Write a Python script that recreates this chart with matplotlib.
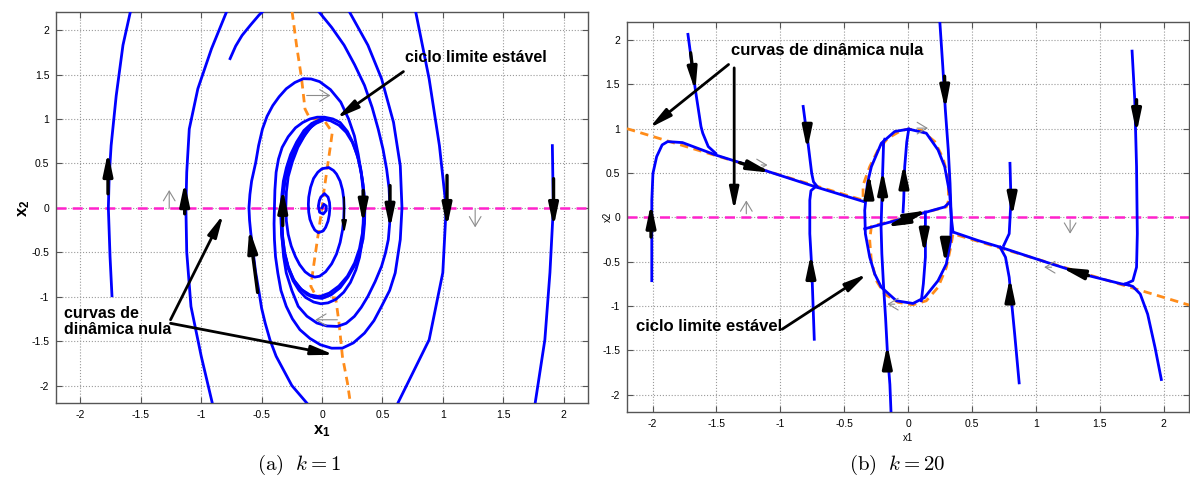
import matplotlib
matplotlib.use('Agg')
import matplotlib.pyplot as plt

plt.rcParams['font.family'] = ['Liberation Sans', 'DejaVu Sans']
plt.rcParams['mathtext.fontset'] = 'custom'
plt.rcParams['mathtext.rm'] = 'Liberation Sans'
plt.rcParams['mathtext.bf'] = 'Liberation Sans:bold'

# ---------------- data ----------------
ticks = [-2, -1.5, -1, -0.5, 0, 0.5, 1, 1.5, 2]
tick_labels = ['-2', '-1.5', '-1', '-0.5', '0', '0.5', '1', '1.5', '2']

# (a) k = 1 : trajectories
a_far_left = [(-1.739, -0.99), (-1.755, -0.55), (-1.769, 0.0), (-1.762, 0.35), (-1.746, 0.70),
              (-1.704, 1.26), (-1.648, 1.83), (-1.586, 2.21)]
a_outer_left = [(-0.901, -2.24), (-1.0, -1.67), (-1.085, -1.11), (-1.12, -0.5),
                (-1.127, 0.0), (-1.12, 0.4), (-1.099, 0.887), (-1.028, 1.34),
                (-0.915, 1.79), (-0.789, 2.21)]
a_start_top = [(-0.761, 1.679), (-0.715, 1.82), (-0.662, 1.94), (-0.59, 2.06), (-0.521, 2.17),
               (-0.49, 2.21)]
a_outer_right = [(0.775, 2.21), (0.887, 1.45), (0.972, 0.70), (1.028, 0.0),
                 (1.0, -0.73), (0.887, -1.485), (0.62, -2.22)]
a_far_right = [(1.907, 0.70), (1.915, 0.0), (1.887, -0.73), (1.845, -1.485), (1.76, -2.24)]
a_spiral_1 = [(0.225, 2.21), (0.38, 1.83), (0.493, 1.453), (0.592, 0.962), (0.648, 0.472),
              (0.662, 0.0), (0.648, -0.357), (0.606, -0.733), (0.56, -0.93), (0.493, -1.109),
              (0.43, -1.27), (0.352, -1.41), (0.26, -1.52), (0.169, -1.579), (0.08, -1.58),
              (-0.014, -1.541), (-0.1, -1.47), (-0.183, -1.372), (-0.245, -1.25),
              (-0.296, -1.109), (-0.34, -0.93), (-0.366, -0.733), (-0.385, -0.55),
              (-0.394, -0.357), (-0.397, -0.18), (-0.394, 0.0), (-0.39, 0.2),
              (-0.38, 0.4), (-0.36, 0.55), (-0.33, 0.68), (-0.28, 0.8), (-0.22, 0.9),
              (-0.16, 0.96), (-0.1, 1.0), (-0.04, 1.02), (0.02, 1.02), (0.09, 1.0),
              (0.15, 0.96), (0.21, 0.86), (0.26, 0.72), (0.3, 0.55), (0.33, 0.35),
              (0.348, 0.17), (0.355, 0.0), (0.352, -0.18), (0.34, -0.35), (0.31, -0.51),
              (0.27, -0.65), (0.215, -0.78), (0.15, -0.9), (0.075, -0.98), (0.0, -1.02),
              (-0.065, -1.01), (-0.12, -0.98), (-0.185, -0.9), (-0.24, -0.8), (-0.28, -0.66),
              (-0.31, -0.5), (-0.328, -0.3), (-0.335, -0.1), (-0.328, 0.1), (-0.31, 0.3),
              (-0.275, 0.47), (-0.23, 0.62), (-0.18, 0.76), (-0.12, 0.88), (-0.06, 0.95),
              (0.0, 0.99)]
a_spiral_2 = [(-0.028, 2.21), (0.08, 2.03), (0.183, 1.83), (0.27, 1.61), (0.352, 1.377),
              (0.415, 1.13), (0.465, 0.887), (0.505, 0.66), (0.535, 0.434), (0.555, 0.22),
              (0.563, 0.0), (0.56, -0.18), (0.549, -0.357), (0.525, -0.51), (0.493, -0.658),
              (0.44, -0.83), (0.38, -0.996), (0.325, -1.12), (0.268, -1.222), (0.2, -1.3),
              (0.127, -1.335), (0.04, -1.33), (-0.042, -1.297), (-0.125, -1.22),
              (-0.197, -1.109), (-0.25, -0.93), (-0.296, -0.733), (-0.318, -0.55),
              (-0.33, -0.357), (-0.337, -0.18), (-0.338, 0.0), (-0.332, 0.15), (-0.32, 0.3),
              (-0.295, 0.45), (-0.26, 0.6), (-0.21, 0.74), (-0.15, 0.87), (-0.085, 0.95),
              (-0.02, 0.99)]
a_spiral_3 = [(-0.099, -2.24), (-0.25, -2.0), (-0.38, -1.67), (-0.43, -1.49), (-0.47, -1.3),
              (-0.5, -1.13), (-0.52, -0.96), (-0.55, -0.72), (-0.57, -0.5), (-0.59, -0.28),
              (-0.6, -0.14), (-0.605, 0.0), (-0.597, 0.15), (-0.583, 0.3), (-0.549, 0.509),
              (-0.525, 0.7), (-0.493, 0.887), (-0.455, 1.03), (-0.408, 1.15), (-0.355, 1.25),
              (-0.296, 1.34), (-0.225, 1.41), (-0.155, 1.453), (-0.09, 1.45), (-0.02, 1.42),
              (0.07, 1.33), (0.155, 1.19), (0.22, 1.0), (0.268, 0.81), (0.3, 0.6),
              (0.324, 0.40), (0.34, 0.2), (0.345, 0.0), (0.34, -0.2), (0.33, -0.4),
              (0.31, -0.56), (0.28, -0.7), (0.235, -0.84), (0.18, -0.95), (0.115, -1.03),
              (0.05, -1.07), (-0.01, -1.08), (-0.07, -1.06), (-0.135, -1.01), (-0.19, -0.93),
              (-0.24, -0.82), (-0.28, -0.68), (-0.308, -0.52), (-0.325, -0.35),
              (-0.332, -0.17), (-0.33, 0.0), (-0.32, 0.18), (-0.3, 0.35), (-0.265, 0.51),
              (-0.22, 0.66), (-0.17, 0.79), (-0.11, 0.9), (-0.055, 0.96), (0.0, 0.995)]
a_inner = [(0.0, 0.0), (0.015, 0.04), (0.035, 0.02), (0.035, -0.03), (0.01, -0.07),
           (-0.02, -0.05), (-0.03, 0.02), (-0.022, 0.08), (-0.01, 0.12), (0.02, 0.16),
           (0.05, 0.12), (0.062, 0.06), (0.065, 0.0), (0.06, -0.08), (0.05, -0.15),
           (0.03, -0.22), (0.01, -0.26), (-0.03, -0.28), (-0.06, -0.25), (-0.08, -0.2),
           (-0.1, -0.13), (-0.11, -0.05), (-0.113, 0.04), (-0.11, 0.12), (-0.095, 0.23),
           (-0.07, 0.33), (-0.035, 0.4), (0.0, 0.44), (0.056, 0.453), (0.095, 0.42),
           (0.12, 0.38), (0.15, 0.3), (0.17, 0.2), (0.18, 0.1), (0.183, 0.0),
           (0.18, -0.12), (0.17, -0.25), (0.15, -0.39), (0.12, -0.52), (0.08, -0.63),
           (0.03, -0.72), (-0.02, -0.77), (-0.06, -0.78), (-0.1, -0.76), (-0.14, -0.72),
           (-0.185, -0.64), (-0.22, -0.55), (-0.255, -0.43), (-0.28, -0.3), (-0.295, -0.15),
           (-0.3, 0.0), (-0.295, 0.18), (-0.28, 0.35), (-0.245, 0.52), (-0.2, 0.68),
           (-0.15, 0.8), (-0.1, 0.9), (-0.05, 0.95), (0.0, 0.98)]
a_cycle = [(0.0, 1.0), (0.07, 0.98), (0.14, 0.93), (0.2, 0.85), (0.25, 0.74), (0.29, 0.6),
           (0.32, 0.44), (0.34, 0.26), (0.35, 0.08), (0.348, -0.1), (0.335, -0.28),
           (0.31, -0.46), (0.27, -0.62), (0.21, -0.77), (0.14, -0.88), (0.06, -0.96),
           (-0.02, -1.0), (-0.1, -0.98), (-0.17, -0.92), (-0.23, -0.82), (-0.28, -0.67),
           (-0.315, -0.5), (-0.335, -0.3), (-0.34, -0.1), (-0.33, 0.1), (-0.31, 0.3),
           (-0.27, 0.5), (-0.21, 0.68), (-0.14, 0.83), (-0.07, 0.94), (0.0, 1.0)]
a_curves = [a_far_left, a_outer_left, a_start_top, a_outer_right, a_far_right,
            a_spiral_1, a_spiral_2, a_spiral_3, a_inner, a_cycle]

# (a) nullcline (orange)
a_null = [(-0.248, 2.21), (-0.211, 1.83), (-0.169, 1.453), (-0.141, 1.113), (-0.113, 1.038),
          (-0.07, 1.0), (0.014, 0.992), (0.085, 0.849), (0.07, 0.698), (0.042, 0.434),
          (0.014, 0.17), (0.0, 0.0), (-0.014, -0.13), (-0.042, -0.395), (-0.07, -0.658),
          (-0.093, -0.883), (-0.056, -0.977), (0.014, -1.004), (0.113, -1.015),
          (0.141, -1.297), (0.169, -1.673), (0.211, -1.974), (0.239, -2.237)]

# (a) direction arrows (start, end)
a_arrows = [((-1.772, 0.158), (-1.772, 0.629)), ((-1.137, -0.068), (-1.137, 0.29)),
            ((-0.325, -0.2), (-0.325, 0.215)), ((-0.533, -0.953), (-0.602, -0.237)),
            ((0.341, 0.196), (0.341, -0.18)), ((0.563, 0.25), (0.563, -0.237)),
            ((1.035, 0.365), (1.035, -0.218)), ((1.917, 0.328), (1.917, -0.218))]
a_small_arrows = [((0.183, 0.12), (0.183, -0.29))]
a_field = [((-1.265, 0.0), (-1.265, 0.2)), ((1.268, -0.02), (1.268, -0.22)),
           ((-0.127, 1.264), (0.07, 1.264)), ((0.127, -1.26), (-0.056, -1.26))]

# (b) k = 20 : trajectories
b_left = [(-2.006, -0.715), (-2.006, -0.3), (-2.006, 0.19), (-1.997, 0.495), (-1.968, 0.684),
          (-1.925, 0.817), (-1.882, 0.854), (-1.766, 0.843), (-1.506, 0.703), (-1.13, 0.533),
          (-0.725, 0.344), (-0.339, 0.174)]
b_top_left = [(-1.723, 2.064), (-1.665, 1.44), (-1.621, 1.025), (-1.607, 0.949),
              (-1.564, 0.798), (-1.506, 0.722)]
b_mid_upper = [(-0.821, 1.251), (-0.783, 0.836), (-0.754, 0.495), (-0.74, 0.40), (-0.71, 0.345)]
b_mid_lower = [(-0.734, -1.376), (-0.754, -0.563), (-0.769, -0.185), (-0.769, 0.193),
               (-0.76, 0.30), (-0.725, 0.344)]
b_top_right = [(0.249, 2.204), (0.272, 1.705), (0.292, 1.214), (0.315, 0.76), (0.329, 0.382),
               (0.338, 0.004), (0.352, -0.166)]
b_right_line = [(0.352, -0.166), (0.546, -0.261), (0.72, -0.336), (1.124, -0.526),
                (1.413, -0.658), (1.673, -0.752), (1.72, -0.762)]
b_far_right = [(1.754, 1.875), (1.775, 1.327), (1.789, 0.571), (1.795, -0.185),
               (1.789, -0.563), (1.76, -0.715), (1.702, -0.752)]
b_bottom_right = [(1.983, -1.83), (1.934, -1.471), (1.876, -1.093), (1.818, -0.866),
                  (1.76, -0.78), (1.702, -0.752)]
b_right_upper = [(0.798, 0.609), (0.806, 0.193), (0.792, -0.185), (0.749, -0.318)]
b_right_lower = [(0.87, -1.868), (0.835, -1.319), (0.792, -0.677), (0.763, -0.45), (0.72, -0.336)]
b_long = [(-0.133, -2.208), (-0.142, -1.887), (-0.162, -1.508), (-0.176, -1.13),
          (-0.191, -0.79), (-0.205, -0.412), (-0.211, -0.11), (-0.205, 0.193),
          (-0.199, 0.495), (-0.191, 0.854), (-0.183, 0.88)]
b_center_up = [(-0.039, 0.06), (-0.034, 0.193), (-0.026, 0.571), (-0.01, 0.85), (0.005, 0.99)]
b_center_down = [(0.136, 0.06), (0.136, -0.45), (0.12, -0.75), (0.104, -0.942)]
b_diag = [(-0.339, -0.13), (-0.287, -0.11), (0.0, 0.0), (0.287, 0.117), (0.318, 0.16)]
b_cycle = [(0.005, 0.995), (0.143, 0.949), (0.235, 0.760), (0.287, 0.571), (0.326, 0.269),
           (0.339, 0.004), (0.334, -0.261), (0.300, -0.526), (0.235, -0.715), (0.130, -0.904),
           (0.039, -0.972), (-0.091, -0.942), (-0.209, -0.790), (-0.261, -0.639),
           (-0.300, -0.450), (-0.334, -0.185), (-0.339, 0.079), (-0.318, 0.382),
           (-0.287, 0.571), (-0.209, 0.836), (-0.104, 0.968), (0.005, 0.995)]
b_curves = [b_left, b_top_left, b_mid_upper, b_mid_lower, b_top_right, b_right_line,
            b_far_right, b_bottom_right, b_right_upper, b_right_lower, b_long,
            b_center_up, b_center_down, b_diag, b_cycle]

b_null = [(-2.2, 1.0), (-0.352, 0.193), (-0.352, 0.363), (-0.3, 0.571), (-0.235, 0.76),
          (-0.157, 0.893), (-0.052, 0.98), (0.005, 0.995), (0.104, 0.98), (0.209, 0.855),
          (0.274, 0.666), (0.313, 0.458), (0.318, 0.193), (0.300, 0.117), (-0.287, -0.102),
          (-0.3, -0.26), (-0.287, -0.488), (-0.248, -0.715), (-0.183, -0.866),
          (-0.078, -0.96), (0.039, -0.987), (0.143, -0.942), (0.235, -0.79), (0.3, -0.564),
          (0.334, -0.337), (0.352, -0.186), (2.2, -0.99)]

b_arrows = [((-2.012, -0.223), (-2.012, 0.155)), ((-1.702, 1.856), (-1.665, 1.422)),
            ((-1.318, 0.616), (-1.072, 0.503)), ((-0.789, 0.949), (-0.789, 0.76)),
            ((-0.76, -0.715), (-0.76, -0.412)), ((-0.306, 0.344), (-0.306, 0.495)),
            ((-0.199, 0.193), (-0.199, 0.533)), ((-0.032, 0.42), (-0.032, 0.609)),
            ((0.012, 0.004), (0.156, 0.079)), ((-0.061, -0.053), (-0.176, -0.11)),
            ((0.127, -0.11), (0.127, -0.412)), ((0.286, 1.592), (0.292, 1.214)),
            ((0.292, -0.336), (0.292, -0.526)), ((-0.162, -1.698), (-0.162, -1.433)),
            ((0.815, 0.268), (0.815, 0.004)), ((0.798, -0.941), (0.798, -0.677)),
            ((1.413, -0.658), (1.197, -0.563)), ((1.789, 1.327), (1.789, 0.949))]
b_field = [((-1.266, 0.04), (-1.266, 0.19)), ((1.269, -0.03), (1.269, -0.185)),
           ((0.07, 1.006), (0.156, 1.006)), ((-0.104, -0.98), (-0.162, -0.98)),
           ((1.124, -0.563), (1.066, -0.563)), ((-1.15, 0.59), (-1.1, 0.59))]


def setup(ax):
    ax.set_xlim(-2.2, 2.2)
    ax.set_ylim(-2.2, 2.2)
    ax.set_xticks(ticks)
    ax.set_yticks(ticks)
    ax.set_xticklabels(tick_labels)
    ax.set_yticklabels(tick_labels)
    ax.grid(True, linestyle=':', color='#9a9a9a', lw=0.8)
    ax.tick_params(direction='in', length=4, width=0.8, labelsize=7.5, color='#555555',
                   top=True, right=True, pad=5)
    for s in ax.spines.values():
        s.set_color('#555555')
        s.set_linewidth(1.0)


def draw(ax, curves, null, arrows, field, small=()):
    ax.axhline(0, color='#ff22cc', ls='--', lw=1.8, dashes=(4, 2.5), zorder=2)
    ax.plot([p[0] for p in null], [p[1] for p in null], color='#ff8c1a', ls='--',
            lw=2.0, dashes=(3, 2), zorder=3)
    for c in curves:
        ax.plot([p[0] for p in c], [p[1] for p in c], color='#0000ff', lw=2.0, zorder=4,
                solid_joinstyle='round')
    for s, e in arrows:
        ax.annotate('', xy=e, xytext=s, zorder=6,
                    arrowprops=dict(arrowstyle='-|>,head_length=0.95,head_width=0.2',
                                    color='k', lw=2.4, mutation_scale=14, shrinkA=0, shrinkB=0))
    for s, e in small:
        ax.annotate('', xy=e, xytext=s, zorder=6,
                    arrowprops=dict(arrowstyle='-|>,head_length=0.7,head_width=0.15',
                                    color='k', lw=1.2, mutation_scale=10, shrinkA=0, shrinkB=0))
    for s, e in field:
        ax.annotate('', xy=e, xytext=s, zorder=5,
                    arrowprops=dict(arrowstyle='->,head_length=0.5,head_width=0.3',
                                    color='#8c8c8c', lw=0.8, mutation_scale=14,
                                    shrinkA=0, shrinkB=0))


def note(ax, start, end):
    ax.annotate('', xy=end, xytext=start, zorder=7,
                arrowprops=dict(arrowstyle='-|>,head_length=0.95,head_width=0.2',
                                color='k', lw=2.0, mutation_scale=14, shrinkA=0, shrinkB=0))


fig = plt.figure(figsize=(11.9, 4.87), dpi=100)

ax1 = fig.add_axes([0.0473, 0.1719, 0.4466, 0.8028])
setup(ax1)
draw(ax1, a_curves, a_null, a_arrows, a_field, a_small_arrows)
ax1.text(0.688, 1.695, 'ciclo limite estável', fontsize=11.5, fontweight='bold',
         ha='left', va='center', zorder=8)
note(ax1, (0.674, 1.533), (0.119, 1.006))
ax1.text(-2.14, -1.28, 'curvas de\ndinâmica nula', fontsize=11.5, fontweight='bold',
         ha='left', va='center', linespacing=1.1, zorder=8)
note(ax1, (-1.254, -1.26), (-0.817, -0.075))
note(ax1, (-1.254, -1.30), (0.099, -1.654))
ax1.set_xlabel(r'$\mathbf{x_1}$', fontsize=12, labelpad=2)
ax1.set_ylabel(r'$\mathbf{x_2}$', fontsize=12)
ax1.yaxis.set_label_coords(-0.045, 0.5)

ax2 = fig.add_axes([0.5269, 0.1534, 0.4723, 0.8008])
setup(ax2)
draw(ax2, b_curves, b_null, b_arrows, b_field)
ax2.text(-1.382, 1.887, 'curvas de dinâmica nula', fontsize=12, fontweight='bold',
         ha='left', va='center', zorder=8)
note(ax2, (-1.405, 1.724), (-2.026, 1.006))
note(ax2, (-1.361, 1.686), (-1.361, 0.079))
ax2.text(-2.127, -1.236, 'ciclo limite estável', fontsize=12, fontweight='bold',
         ha='left', va='center', zorder=8)
note(ax2, (-0.986, -1.263), (-0.321, -0.639))
ax2.set_xlabel('x1', fontsize=7, labelpad=3)
ax2.set_ylabel('x2', fontsize=7)
ax2.yaxis.set_label_coords(-0.025, 0.5)

fig.text(0.251, 0.045, r'$\mathrm{(a)}\ \ k=1$', fontsize=15, ha='center', va='center',
         math_fontfamily='cm')
fig.text(0.754, 0.045, r'$\mathrm{(b)}\ \ k=20$', fontsize=15, ha='center', va='center',
         math_fontfamily='cm')

fig.savefig('out.png', dpi=100)
